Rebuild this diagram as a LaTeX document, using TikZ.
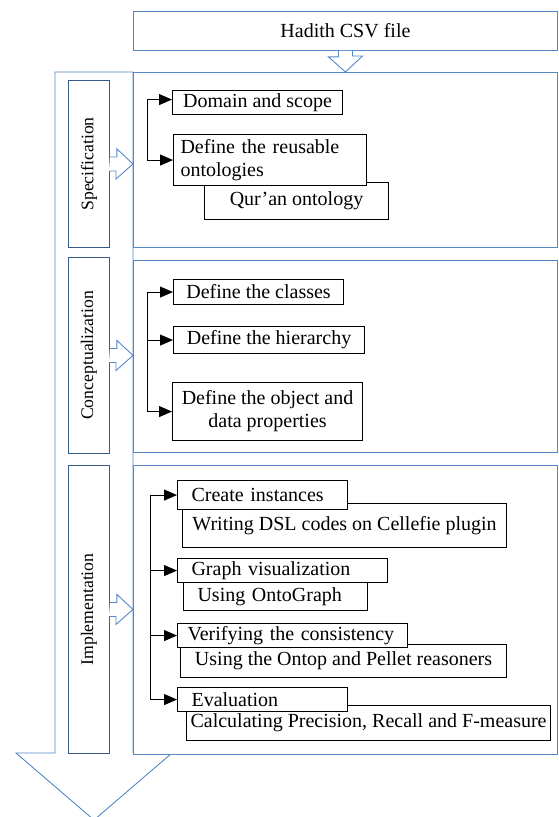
\documentclass[tikz,border=0pt]{standalone}
\usepackage{fontspec}
\setmainfont{Liberation Serif}
\usetikzlibrary{arrows.meta,calc}
\definecolor{frameblue}{RGB}{84,136,200}
\definecolor{sideblue}{RGB}{55,92,140}

\begin{document}
\begin{tikzpicture}[x=1pt,y=-1pt,>={Triangle[length=13pt,width=11pt]},
  panel/.style={draw=frameblue,line width=0.9pt,fill=white,anchor=north west,inner sep=0pt},
  side/.style={draw=sideblue,line width=0.9pt,fill=white,anchor=north west,inner sep=0pt,font=\fontsize{17.7}{20}\selectfont},
  hollow/.style={draw=frameblue,line width=0.9pt,fill=white},
  item/.style={draw=black,line width=1.1pt,fill=white,anchor=north west,inner xsep=0pt,inner ysep=0pt,align=center,font=\fontsize{20}{23}\selectfont},
  itemleft/.style={item,inner xsep=14pt,align=left},
  link/.style={line width=1pt}]
\useasboundingbox (0,0) rectangle (558,817);

% big down arrow behind the phases
\draw[hollow] (55,72) -- (55,753) -- (16,753) -- (94,820) -- (172,753) -- (133,753) -- (133,72) -- cycle;

% input file
\node[panel,minimum width=424pt,minimum height=39pt,font=\fontsize{20}{23}\selectfont] (csv) at (133,11) {Hadith CSV file};

% phase panels
\node[panel,minimum width=424pt,minimum height=175pt] (specpanel) at (133,72) {};
\node[panel,minimum width=424pt,minimum height=192pt] (concpanel) at (133,260) {};
\node[panel,minimum width=424pt,minimum height=289pt] (implpanel) at (133,465) {};
\draw[hollow] ([xshift=-7pt]csv.south) -- ++(0,6) -- ++(-10,0) -- (csv.south |- specpanel.north) -- ++(17,-16) -- ++(-10,0) -- ([xshift=7pt]csv.south);

% phase labels
\node[side,minimum width=41pt,minimum height=167pt] (specside) at (68,80) {\rotatebox{90}{Specification}};
\node[side,minimum width=41pt,minimum height=196pt] (concside) at (68,257) {\rotatebox{90}{Conceptualization}};
\node[side,minimum width=41pt,minimum height=288pt] (implside) at (68,465) {\rotatebox{90}{Implementation}};
\draw[hollow] ([yshift=7pt]specside.east) -- ++(7,0) -- ++(0,-8) -- (specside.east -| specpanel.west) -- ++(-17,15) -- ++(0,-8) -- ++(-7,0);
\draw[hollow] ([yshift=7pt]concside.east) -- ++(7,0) -- ++(0,-8) -- (concside.east -| concpanel.west) -- ++(-17,15) -- ++(0,-8) -- ++(-7,0);
\draw[hollow] ([yshift=7pt]implside.east) -- ++(7,0) -- ++(0,-8) -- (implside.east -| implpanel.west) -- ++(-17,15) -- ++(0,-8) -- ++(-7,0);

% specification
\node[item,minimum width=184pt,minimum height=37pt] (quran) at (204,182) {Qur’an ontology};
\node[itemleft,inner xsep=7pt,text width=179pt,minimum height=51pt] (reuse) at (173,134) {Define the reusable\\ontologies};
\node[item,minimum width=170pt,minimum height=24pt] (dom) at (172,90) {Domain and scope};
\coordinate (sspine) at (147,0);
\draw[link,<->] ([yshift=3pt]dom.west) -- ([yshift=3pt]dom.west -| sspine) -- (reuse.west -| sspine) -- (reuse.west);

% conceptualization
\node[item,minimum width=170pt,minimum height=25pt] (classes) at (173,279) {Define the classes};
\node[item,minimum width=191pt,minimum height=27pt] (hier) at (173,326) {Define the hierarchy};
\node[item,minimum width=190pt,minimum height=58pt] (objprop) at (172,382) {Define the object and\\data properties};
\coordinate (cspine) at (147,0);
\draw[link,<->] (classes.west) -- (classes.west -| cspine) -- (objprop.west -| cspine) -- (objprop.west);
\draw[link,->] (hier.west -| cspine) -- (hier.west);

% implementation
\node[item,minimum width=324pt,minimum height=44pt] (dsl) at (182,503) {Writing DSL codes on Cellefie plugin};
\node[itemleft,text width=142pt,minimum height=29pt] (inst) at (177,480) {Create instances};
\node[itemleft,text width=156pt,minimum height=28pt] (onto) at (183,582) {Using OntoGraph};
\node[itemleft,text width=182pt,minimum height=24pt] (graph) at (177,558) {Graph visualization};
\node[item,minimum width=326pt,minimum height=33pt] (ontop) at (180,644) {Using the Ontop and Pellet reasoners};
\node[itemleft,inner xsep=10pt,text width=210pt,minimum height=24pt] (verif) at (177,623) {Verifying the consistency};
\node[item,minimum width=364pt,minimum height=35pt] (calc) at (186,705) {Calculating Precision, Recall and F-measure};
\node[itemleft,text width=142pt,minimum height=24pt] (eval) at (177,687) {Evaluation};
\coordinate (ispine) at (150,0);
\draw[link,<->] (inst.west) -- (inst.west -| ispine) -- (eval.west -| ispine) -- (eval.west);
\draw[link,->] (graph.west -| ispine) -- (graph.west);
\draw[link,->] (verif.west -| ispine) -- (verif.west);
\end{tikzpicture}
\end{document}
